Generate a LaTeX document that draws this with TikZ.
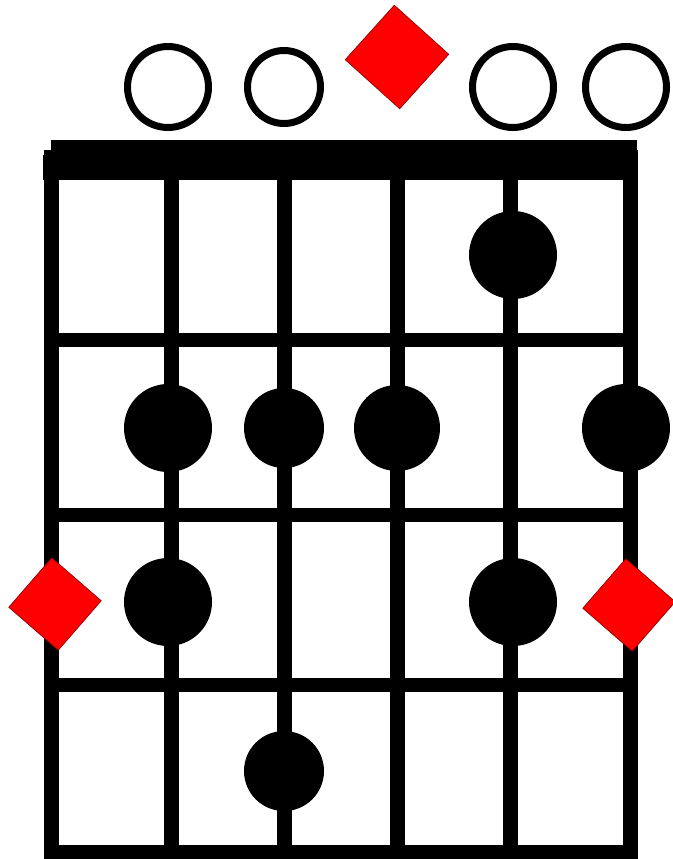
\documentclass[tikz,border=0pt]{standalone}
\usepackage{xcolor}
\usepackage{tikz}
\usetikzlibrary{shapes.geometric}

\begin{document}
\begin{tikzpicture}[
    x=1pt, y=-1pt,
    stringline/.style={line width=15pt},
    fretline/.style={line width=14pt},
    open/.style={circle, draw, line width=7pt, minimum size=81pt, inner sep=0pt},
    dot/.style={circle, fill=black, minimum size=88pt, inner sep=0pt},
    root/.style={diamond, fill=red, draw=red!50!black, line width=0.6pt, aspect=1, inner sep=0pt, minimum size=93pt},
]
\useasboundingbox (0,0) rectangle (672,859);

% Nut
\fill (51,140) rectangle (637,180);
\fill (43,155) rectangle (59,180);

% Strings
\foreach \x in {51,171,284,397,510,630}
    \draw[stringline] (\x,150) -- (\x,859);

% Frets
\foreach \y in {340,515,685,852}
    \draw[fretline] (44,\y) -- (637,\y);

% Open strings
\node[open] (o2) at (168,87) {};
\node[open, minimum size=73pt] (o3) at (284,87) {};
\node[root, minimum size=104pt, rotate=3] (r4) at (397,57) {};
\node[open] (o5) at (513,87) {};
\node[open] (o6) at (626,87) {};

% Fret 1
\node[dot] (f1s5) at (513,255) {};

% Fret 2
\node[dot] (f2s2) at (168,428) {};
\node[dot, minimum size=80pt] (f2s3) at (284,428) {};
\node[dot, minimum size=86pt] (f2s4) at (397,428) {};
\node[dot] (f2s6) at (626,428) {};

% Fret 3
\node[root, rotate=4] (r1) at (55,604) {};
\node[dot] (f3s2) at (168,602) {};
\node[dot] (f3s5) at (513,602) {};
\node[root, rotate=4] (r6) at (629,605) {};

% Fret 4
\node[dot, minimum size=80pt] (f4s3) at (284,771) {};

\end{tikzpicture}
\end{document}
